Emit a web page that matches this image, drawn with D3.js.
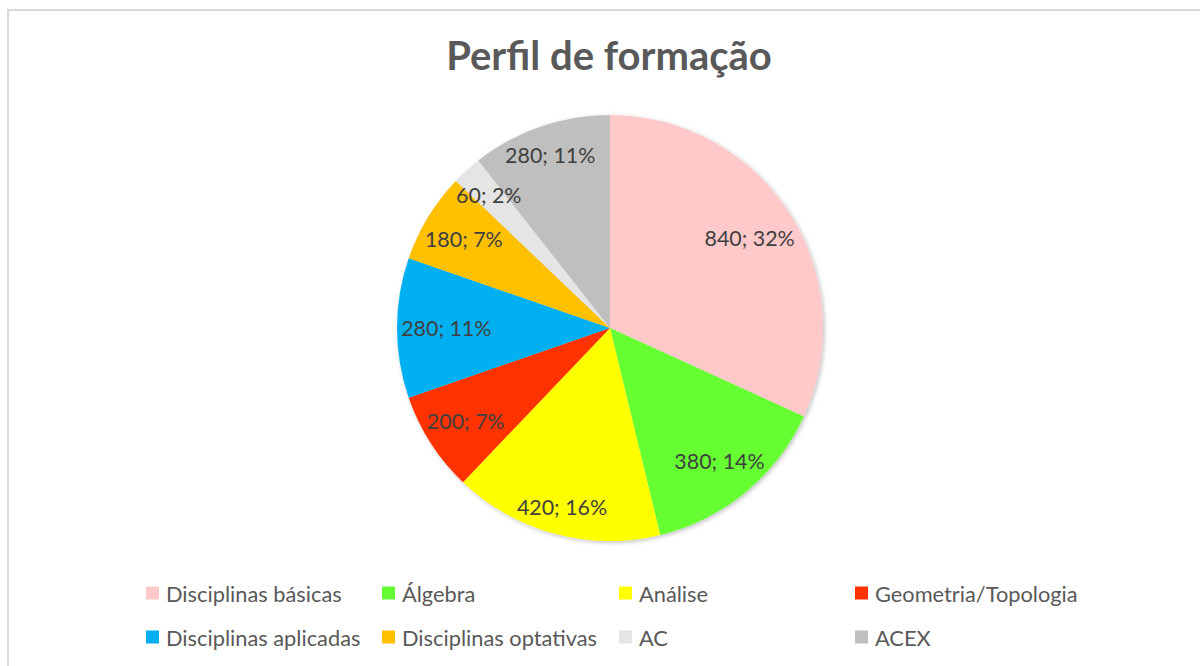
<!DOCTYPE html>
<html>
<head>
<meta charset="utf-8">
<script src="https://cdn.jsdelivr.net/npm/d3@7"></script>
<style>
  body { margin: 0; background: #fff; }
  text { font-family: Lato, "Open Sans", sans-serif; }
</style>
</head>
<body>
<div id="chart"></div>
<script>
var categories = ["Disciplinas básicas", "Álgebra", "Análise", "Geometria/Topologia",
  "Disciplinas aplicadas", "Disciplinas optativas", "AC", "ACEX"];
var values = [840, 380, 420, 200, 280, 180, 60, 280];
var percentLabels = ["32%", "14%", "16%", "7%", "11%", "7%", "2%", "11%"];
var colors = ["#FFC9C9", "#66FF33", "#FFFF00", "#FF3300", "#00B0F0", "#FFC000", "#E5E5E5", "#BFBFBF"];

(function() {
  var width = 1200, height = 666;
  var svg = d3.select("#chart").append("svg")
    .attr("width", width)
    .attr("height", height);

  // outer chart border (runs off right / bottom)
  svg.append("rect")
    .attr("x", 8).attr("y", 10)
    .attr("width", 1220).attr("height", 700)
    .attr("fill", "#fff")
    .attr("stroke", "#d9d9d9")
    .attr("stroke-width", 2);

  svg.append("text")
    .attr("x", 609).attr("y", 70)
    .attr("text-anchor", "middle")
    .attr("fill", "#595959")
    .attr("font-size", 40)
    .attr("font-weight", "bold")
    .text("Perfil de formação");

  var defs = svg.append("defs");
  var f = defs.append("filter").attr("id", "shadow")
    .attr("x", "-10%").attr("y", "-10%").attr("width", "130%").attr("height", "130%");
  f.append("feDropShadow").attr("dx", 1.5).attr("dy", 1.5).attr("stdDeviation", 2)
    .attr("flood-color", "#000").attr("flood-opacity", 0.25);

  var cx = 610, cy = 328, r = 213;
  var pie = d3.pie().sort(null).value(function(d) { return d; });
  var arcs = pie(values);
  var arc = d3.arc().innerRadius(0).outerRadius(r);

  var g = svg.append("g").attr("transform", "translate(" + cx + "," + cy + ")");

  g.append("g").attr("filter", "url(#shadow)")
    .selectAll("path")
    .data(arcs)
    .enter().append("path")
    .attr("d", arc)
    .attr("fill", function(d, i) { return colors[i]; });

  // data labels: pushed outward along mid-angle until the far corner of the text box reaches ~r
  var labels = g.selectAll("text.lbl")
    .data(arcs)
    .enter().append("text")
    .attr("class", "lbl")
    .attr("text-anchor", "middle")
    .attr("dominant-baseline", "central")
    .attr("fill", "#404040")
    .attr("font-size", 21.4)
    .text(function(d, i) { return values[i] + "; " + percentLabels[i]; });

  var R0 = 209, h = 16;
  labels.each(function(d) {
    var w = this.getComputedTextLength();
    var a = (d.startAngle + d.endAngle) / 2;
    var ux = Math.sin(a), uy = -Math.cos(a);
    var b = Math.abs(ux) * w / 2 + Math.abs(uy) * h / 2;
    var c = (w * w + h * h) / 4 - R0 * R0;
    var dist = -b + Math.sqrt(b * b - c);
    d3.select(this).attr("x", dist * ux).attr("y", dist * uy);
  });

  // legend
  var legX = [146, 382, 619, 855], legY = [593, 637];
  var leg = svg.append("g").selectAll("g")
    .data(categories)
    .enter().append("g")
    .attr("transform", function(d, i) {
      return "translate(" + legX[i % 4] + "," + legY[Math.floor(i / 4)] + ")";
    });
  leg.append("rect")
    .attr("x", 0).attr("y", -6.5)
    .attr("width", 13).attr("height", 13)
    .attr("fill", function(d, i) { return colors[i]; });
  leg.append("text")
    .attr("x", 20).attr("y", 0)
    .attr("dominant-baseline", "central")
    .attr("fill", "#595959")
    .attr("font-size", 21.8)
    .text(function(d) { return d; });
})();
</script>
</body>
</html>
